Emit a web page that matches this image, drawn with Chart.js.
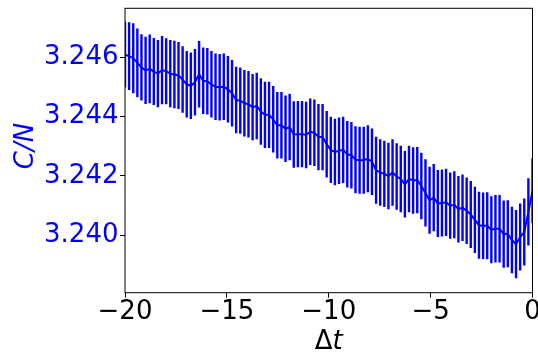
<!DOCTYPE html>
<html>
<head>
<meta charset="utf-8">
<script src="https://cdn.jsdelivr.net/npm/chart.js@4.4.1/dist/chart.umd.min.js"></script>
<style>
html,body{margin:0;padding:0;background:#fff;}
#wrap{width:538px;height:354px;position:relative;}
</style>
</head>
<body>
<div id="wrap"><canvas id="c" width="538" height="354"></canvas></div>
<script>
// Δt values (100 evenly spaced points from -20 to 0)
const times = [-20.000,-19.798,-19.596,-19.394,-19.192,-18.990,-18.788,-18.586,-18.384,-18.182,
-17.980,-17.778,-17.576,-17.374,-17.172,-16.970,-16.768,-16.566,-16.364,-16.162,
-15.960,-15.758,-15.556,-15.354,-15.152,-14.949,-14.747,-14.545,-14.343,-14.141,
-13.939,-13.737,-13.535,-13.333,-13.131,-12.929,-12.727,-12.525,-12.323,-12.121,
-11.919,-11.717,-11.515,-11.313,-11.111,-10.909,-10.707,-10.505,-10.303,-10.101,
-9.899,-9.697,-9.495,-9.293,-9.091,-8.889,-8.687,-8.485,-8.283,-8.081,
-7.879,-7.677,-7.475,-7.273,-7.071,-6.869,-6.667,-6.465,-6.263,-6.061,
-5.859,-5.657,-5.455,-5.253,-5.051,-4.848,-4.646,-4.444,-4.242,-4.040,
-3.838,-3.636,-3.434,-3.232,-3.030,-2.828,-2.626,-2.424,-2.222,-2.020,
-1.818,-1.616,-1.414,-1.212,-1.010,-0.808,-0.606,-0.404,-0.202,0.000];

// C/N mean values
const meanCN = [3.24609,3.24604,3.24597,3.24581,3.24566,3.24556,3.24561,3.24552,3.24545,3.24557,
3.24553,3.24545,3.24542,3.24539,3.24525,3.24509,3.24504,3.24516,3.24543,3.24521,
3.24519,3.24509,3.24501,3.24499,3.24501,3.24492,3.24479,3.24456,3.24454,3.24445,
3.24442,3.24432,3.24436,3.24417,3.24406,3.24406,3.24391,3.24371,3.24371,3.24359,
3.24365,3.24340,3.24341,3.24341,3.24338,3.24349,3.24346,3.24331,3.24331,3.24307,
3.24288,3.24281,3.24285,3.24288,3.24273,3.24270,3.24255,3.24253,3.24253,3.24258,
3.24248,3.24219,3.24212,3.24207,3.24200,3.24212,3.24198,3.24190,3.24172,3.24190,
3.24185,3.24186,3.24166,3.24143,3.24118,3.24127,3.24107,3.24109,3.24111,3.24100,
3.24103,3.24088,3.24093,3.24083,3.24070,3.24052,3.24034,3.24032,3.24032,3.24019,
3.24022,3.24022,3.24004,3.24005,3.23984,3.23970,3.23994,3.24011,3.24079,3.24150];

// half-length of the error bars
const errCN = [0.00111,0.00114,0.00118,0.00116,0.00112,0.00113,0.00116,0.00113,0.00113,0.00115,
0.00111,0.00113,0.00114,0.00113,0.00112,0.00112,0.00112,0.00112,0.00112,0.00112,
0.00112,0.00112,0.00112,0.00112,0.00112,0.00112,0.00112,0.00112,0.00112,0.00112,
0.00112,0.00112,0.00112,0.00112,0.00112,0.00112,0.00112,0.00112,0.00112,0.00112,
0.00112,0.00112,0.00112,0.00112,0.00112,0.00112,0.00112,0.00112,0.00112,0.00112,
0.00112,0.00112,0.00112,0.00112,0.00112,0.00112,0.00113,0.00113,0.00113,0.00113,
0.00112,0.00113,0.00112,0.00112,0.00112,0.00112,0.00112,0.00112,0.00112,0.00112,
0.00112,0.00112,0.00112,0.00113,0.00113,0.00113,0.00113,0.00113,0.00113,0.00112,
0.00113,0.00112,0.00112,0.00112,0.00113,0.00112,0.00113,0.00112,0.00113,0.00113,
0.00114,0.00114,0.00113,0.00113,0.00112,0.00115,0.00113,0.00113,0.00113,0.00109];

const xTicks = [-20, -15, -10, -5, 0];
const yTicks = [3.240, 3.242, 3.244, 3.246];
const xLabelMain = 'Δ';
const xLabelItalic = 't';
const yLabel = 'C/N';

const FONT = "'DejaVu Sans'";
const BLUE = '#0000ff';

const lineData = times.map((t, i) => ({x: t, y: meanCN[i]}));
const barData = times.map((t, i) => ({x: t, y: [meanCN[i] - errCN[i], meanCN[i] + errCN[i]]}));

const framePlugin = {
  id: 'frame',
  afterDraw(chart) {
    const {ctx, chartArea: a} = chart;
    ctx.save();
    ctx.strokeStyle = '#000';
    ctx.lineWidth = 1;
    ctx.strokeRect(a.left, a.top, a.right - a.left, a.bottom - a.top);
    // x axis title: upright Δ + italic t
    ctx.fillStyle = '#000';
    ctx.textBaseline = 'alphabetic';
    ctx.font = "26px " + FONT;
    const w1 = ctx.measureText(xLabelMain).width;
    ctx.font = "italic 26px " + FONT;
    const w2 = ctx.measureText(xLabelItalic).width;
    const cx = (a.left + a.right) / 2;
    let x0 = cx - (w1 + w2) / 2;
    ctx.textAlign = 'left';
    ctx.font = "26px " + FONT;
    ctx.fillText(xLabelMain, x0, 348.5);
    ctx.font = "italic 26px " + FONT;
    ctx.fillText(xLabelItalic, x0 + w1, 348.5);
    // y axis title
    ctx.translate(32.5, 146);
    ctx.rotate(-Math.PI / 2);
    ctx.textAlign = 'center';
    ctx.fillStyle = BLUE;
    ctx.font = "italic 26px " + FONT;
    ctx.fillText(yLabel, 0, 0);
    ctx.restore();
  }
};

new Chart(document.getElementById('c'), {
  type: 'line',
  data: {
    datasets: [
      {
        type: 'line',
        data: lineData,
        borderColor: BLUE,
        borderWidth: 2,
        pointRadius: 0,
        tension: 0,
        fill: false,
        order: 1
      },
      {
        type: 'bar',
        data: barData,
        backgroundColor: BLUE,
        borderWidth: 0,
        inflateAmount: 0,
        barThickness: 2.4,
        grouped: false,
        order: 2
      }
    ]
  },
  options: {
    responsive: false,
    animation: false,
    events: [],
    layout: {padding: {left: 0, top: 8.3, right: 5.5, bottom: 0}},
    plugins: {legend: {display: false}, tooltip: {enabled: false}},
    scales: {
      x: {
        type: 'linear',
        min: -20,
        max: 0,
        offset: false,
        afterBuildTicks: s => { s.ticks = xTicks.map(v => ({value: v})); },
        afterFit: s => { s.height = 61.3; s.paddingLeft = 0; s.paddingRight = 0; },
        ticks: {
          autoSkip: false,
          maxRotation: 0,
          padding: -1.5,
          color: '#000',
          font: {family: FONT, size: 26},
          callback: v => (v < 0 ? '\u2212' + Math.abs(v) : String(v))
        },
        grid: {display: true, offset: false, drawOnChartArea: false, drawTicks: true, tickLength: 5, tickColor: '#000', tickWidth: 1},
        border: {display: false}
      },
      y: {
        type: 'linear',
        min: 3.238065,
        max: 3.247652,
        afterBuildTicks: s => { s.ticks = yTicks.map(v => ({value: v})); },
        afterFit: s => { s.width = 125; s.paddingTop = 0; s.paddingBottom = 0; },
        ticks: {
          autoSkip: false,
          padding: 1.5,
          color: BLUE,
          font: {family: FONT, size: 26},
          callback: v => Number(v).toFixed(3)
        },
        grid: {display: true, offset: false, drawOnChartArea: false, drawTicks: true, tickLength: 5, tickColor: '#000', tickWidth: 1},
        border: {display: false}
      }
    }
  },
  plugins: [framePlugin]
});
</script>
</body>
</html>
